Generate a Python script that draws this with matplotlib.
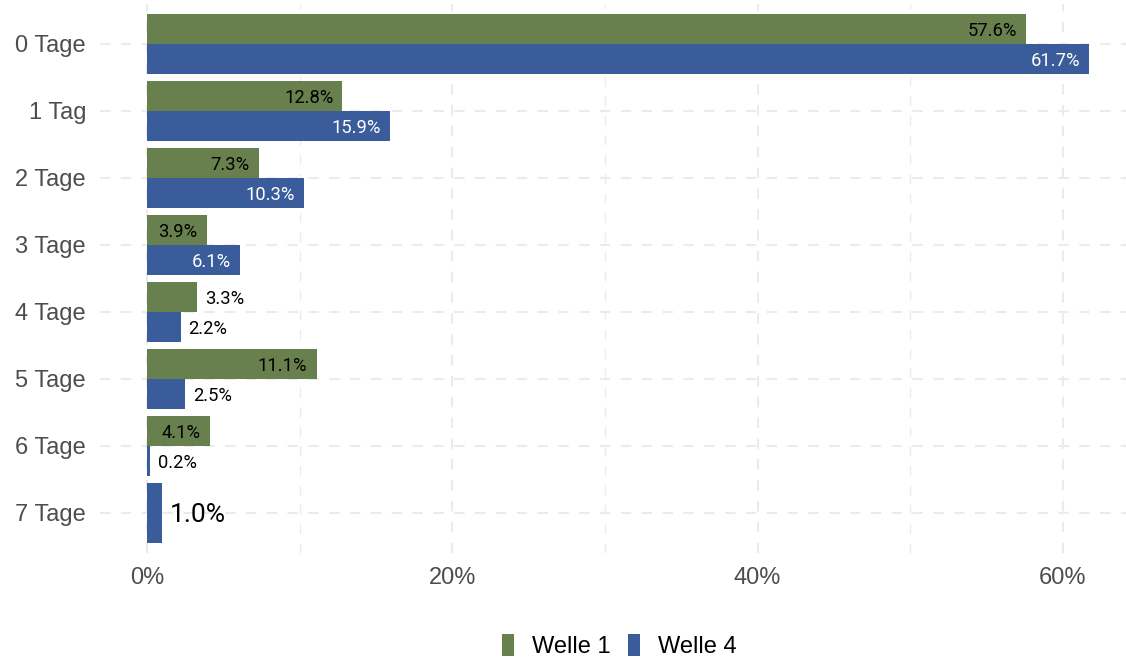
import numpy as np
import matplotlib
matplotlib.use("Agg")
import matplotlib.pyplot as plt
from matplotlib.patches import Patch

categories = ["0 Tage", "1 Tag", "2 Tage", "3 Tage", "4 Tage", "5 Tage", "6 Tage", "7 Tage"]
welle1 = [57.6, 12.8, 7.3, 3.9, 3.3, 11.1, 4.1, np.nan]
welle4 = [61.7, 15.9, 10.3, 6.1, 2.2, 2.5, 0.2, 1.0]
series_names = ["Welle 1", "Welle 4"]
colors = ["#68804D", "#3A5C9A"]
inside_text = ["#000000", "#FFFFFF"]
xticks = [0, 20, 40, 60]
xticklabels = ["0%", "20%", "40%", "60%"]

W, H = 1126, 657
fig = plt.figure(figsize=(W / 100, H / 100), dpi=100)
ax = fig.add_axes([100 / W, 1 - 553 / H, 1026 / W, (553 - 3.8) / H])

ax.set_xlim(-3.085, 64.13)
ax.set_ylim(len(categories) - 1 + 0.6, -0.6)

grid_kw = dict(color="#EBEBEB", linewidth=1.5, dashes=(5, 5), zorder=0)
for x in xticks:
    ax.axvline(x, **grid_kw)
for x in [10, 30, 50]:
    ax.axvline(x, color="#EBEBEB", linewidth=1.0, dashes=(7, 7), zorder=0)
for i in range(len(categories)):
    ax.axhline(i, **grid_kw)

total_h = 0.9
series = [welle1, welle4]
for i in range(len(categories)):
    present = [k for k in range(2) if not np.isnan(series[k][i])]
    n = len(present)
    h = total_h / n
    for j, k in enumerate(present):
        v = series[k][i]
        yc = i - total_h / 2 + h * (j + 0.5)
        ax.barh(yc, v, height=h * 0.985, color=colors[k], edgecolor="none", zorder=2)
        fs = 13.2 if n == 2 else 19
        dy = -1.4 if n == 2 else -1.6
        label = f"{v:.1f}%"
        if v > 3.5:
            ax.annotate(label, xy=(v, yc), xytext=(-6.5, dy), textcoords="offset points",
                        ha="right", va="center", fontsize=fs, family="Roboto",
                        color=inside_text[k], zorder=3)
        else:
            ax.annotate(label, xy=(v, yc), xytext=(5.5, dy), textcoords="offset points",
                        ha="left", va="center", fontsize=fs, family="Roboto",
                        color="#000000", zorder=3)

ax.set_yticks(range(len(categories)))
ax.set_yticklabels(categories)
ax.set_xticks(xticks)
ax.set_xticklabels(xticklabels)
ax.tick_params(axis="both", length=0, labelsize=17, labelcolor="#4D4D4D")
ax.tick_params(axis="y", pad=10)
ax.tick_params(axis="x", pad=10)
for lbl in ax.get_xticklabels() + ax.get_yticklabels():
    lbl.set_family("Liberation Sans")
for s in ax.spines.values():
    s.set_visible(False)

handles = [Patch(facecolor=c, edgecolor="none", label=n) for c, n in zip(colors, series_names)]
fig.legend(handles=handles, loc="center", bbox_to_anchor=(619 / W, 1 - 646 / H), ncol=2,
           frameon=False, prop={"family": "Liberation Sans", "size": 17},
           handlelength=0.52, handleheight=1.1, handletextpad=0.75, columnspacing=0.75,
           borderaxespad=0, borderpad=0)

fig.savefig("out.png", dpi=100)
